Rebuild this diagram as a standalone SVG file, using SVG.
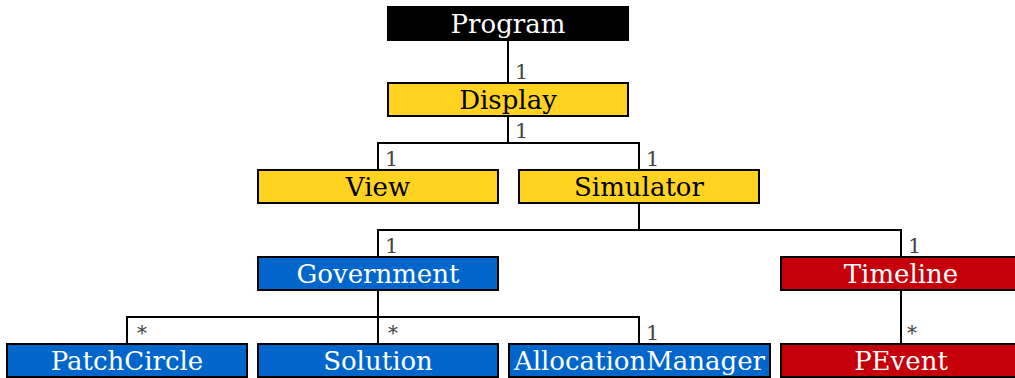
<svg xmlns="http://www.w3.org/2000/svg" width="1015" height="378" viewBox="0 0 1015 378">
<style>
.box{stroke:#000;stroke-width:2}
.k{fill:#000}.y{fill:#ffd320}.b{fill:#0066cc}.r{fill:#c5000b}
.t{font-family:"DejaVu Serif","Liberation Serif",serif;font-size:26px;text-anchor:middle}
.w{fill:#fff}.d{fill:#000}
.c{fill:none;stroke:#000;stroke-width:2}
.m{font-family:"DejaVu Serif","Liberation Serif",serif;font-size:21px;fill:#444}
.s{font-family:"DejaVu Serif","Liberation Serif",serif;font-size:20px;fill:#444}
</style>
<rect width="1015" height="378" fill="#fff"/>
<g id="connectors">
<path class="c" d="M508 40V83"/>
<path class="c" d="M508 116V143M378 170V143H639V170"/>
<path class="c" d="M639 203V230M378 257V230H901V257"/>
<path class="c" d="M378 290V317M127 344V317H639V344M378 317V344"/>
<path class="c" d="M901 290V344"/>
<text class="m" x="515" y="79">1</text>
<text class="m" x="515" y="138">1</text>
<text class="m" x="385" y="166">1</text>
<text class="m" x="646" y="166">1</text>
<text class="m" x="385" y="253">1</text>
<text class="m" x="908" y="253">1</text>
<text class="s" x="137" y="339.5">*</text>
<text class="s" x="388" y="339.5">*</text>
<text class="m" x="646" y="339.5">1</text>
<text class="s" x="907" y="339.5">*</text>
</g>
<g id="program"><rect class="box k" x="388" y="7" width="240" height="33"/><text class="t w" x="508" y="32.5">Program</text></g>
<g id="display"><rect class="box y" x="388" y="83" width="240" height="33"/><text class="t d" x="508" y="108.5">Display</text></g>
<g id="view"><rect class="box y" x="258" y="170" width="240" height="33"/><text class="t d" x="378" y="195.5">View</text></g>
<g id="simulator"><rect class="box y" x="519" y="170" width="240" height="33"/><text class="t d" x="639" y="195.5">Simulator</text></g>
<g id="government"><rect class="box b" x="258" y="257" width="240" height="33"/><text class="t w" x="378" y="282.5">Government</text></g>
<g id="timeline"><rect class="box r" x="781" y="257" width="240" height="33"/><text class="t w" x="901" y="282.5">Timeline</text></g>
<g id="patchcircle"><rect class="box b" x="7" y="344" width="240" height="33"/><text class="t w" x="127" y="369.5">PatchCircle</text></g>
<g id="solution"><rect class="box b" x="258" y="344" width="240" height="33"/><text class="t w" x="378" y="369.5">Solution</text></g>
<g id="allocationmanager"><rect class="box b" x="509" y="344" width="261" height="33"/><text class="t w" x="639.5" y="369.5">AllocationManager</text></g>
<g id="pevent"><rect class="box r" x="781" y="344" width="240" height="33"/><text class="t w" x="901" y="369.5">PEvent</text></g>
</svg>
